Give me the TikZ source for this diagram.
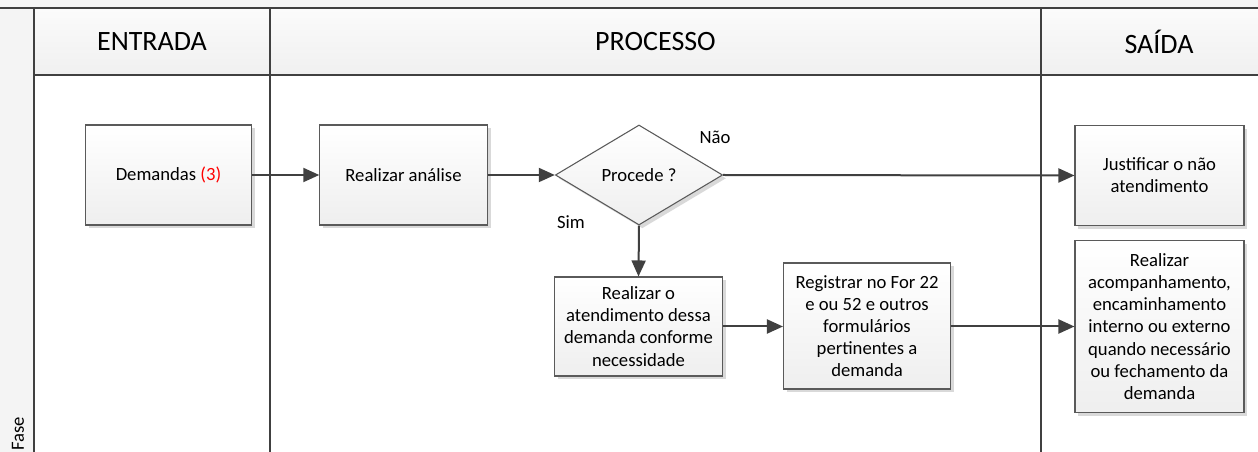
\documentclass[tikz,border=0pt]{standalone}
\usepackage{fontspec}
\setmainfont{Carlito}
\usetikzlibrary{arrows.meta,shapes.geometric,shadows}
\definecolor{linec}{HTML}{404040}
\definecolor{boxline}{HTML}{5A5A5A}
\tikzset{
  lane/.style={draw=linec, line width=1.5pt},
  boxbase/.style={draw=boxline, line width=0.8pt, top color=white, bottom color=gray!13,
    drop shadow={shadow xshift=2.5pt, shadow yshift=-2.5pt, fill=gray!30, opacity=1},
    align=center, font=\fontsize{14}{16.6}\selectfont, inner sep=0pt},
  procbox/.style={boxbase, rectangle, minimum width=125.5pt, minimum height=75pt},
  decision/.style={boxbase, diamond, shape aspect=1.68, minimum width=125.5pt, minimum height=75pt},
  flow/.style={draw=linec, line width=1.5pt, -{Triangle[length=12pt,width=10.5pt]}},
  lbl/.style={font=\fontsize{14}{16.6}\selectfont, inner sep=0pt},
  head/.style={font=\fontsize{21}{25}\selectfont, inner sep=0pt},
}
\begin{document}
\begin{tikzpicture}[x=0.75pt,y=-0.75pt]
\useasboundingbox (0,0) rectangle (1258,452);
% backgrounds
\fill[gray!8] (0,-5) rectangle (1290,8);
\fill[gray!9] (0,8) rectangle (34,460);
\shade[top color=gray!3, bottom color=gray!12] (34,8) rectangle (1290,75);
% lane lines
\draw[lane] (0,8) -- (1290,8);
\draw[lane] (34,75) -- (1290,75);
\draw[lane] (34,8) -- (34,460);
\draw[lane] (270,8) -- (270,460);
\draw[lane] (1041,8) -- (1041,460);
% headers
\node[head] (hin) at (152,42) {ENTRADA};
\node[head] (hproc) at (655.5,42) {PROCESSO};
\node[head] (hout) at (1159,42) {SAÍDA};
\node[lbl, rotate=90] (fase) at (18,434) {Fase};
% nodes
\node[procbox, minimum width=125pt] (dem) at (168.5,175) {Demandas \textcolor{red}{(3)}};
\node[procbox] (ana) at (403.5,175) {Realizar análise};
\node[decision] (proc) at (639,175) {Procede ?};
\node[procbox, minimum width=126.75pt] (just) at (1159.5,175.5) {Justificar o não\\atendimento};
\node[procbox, minimum width=126.75pt, minimum height=129pt] (acomp) at (1159.5,326.5)
  {Realizar\\acompanhamento,\\encaminhamento\\interno ou externo\\quando necessário\\ou fechamento da\\demanda};
\node[procbox, minimum height=74.25pt] (aten) at (638.5,326.5)
  {Realizar o\\atendimento dessa\\demanda conforme\\necessidade};
\node[procbox, minimum width=125.25pt, minimum height=94.5pt] (reg) at (867,326)
  {Registrar no For 22\\e ou 52 e outros\\formulários\\pertinentes a\\demanda};
% labels
\node[lbl] (nao) at (715,137) {Não};
\node[lbl] (sim) at (571,222) {Sim};
% connectors
\draw[flow] (dem) -- (ana);
\draw[flow] (ana) -- (proc);
\draw[flow] (proc.east) -- (just.west);
\draw[flow] (proc.south) -- (aten.north);
\draw[flow] (aten.east) -- (reg.west |- aten.east);
\draw[flow] (reg.east |- aten.east) -- (acomp.west |- aten.east);
\end{tikzpicture}
\end{document}
